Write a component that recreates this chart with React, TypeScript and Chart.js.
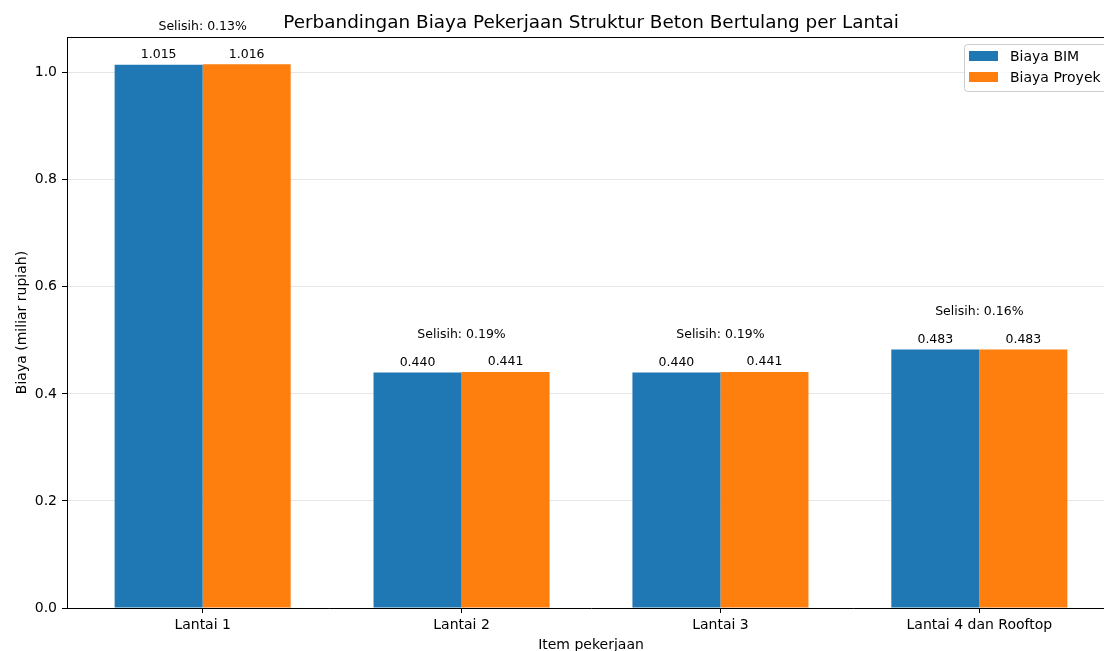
import React, { useEffect, useRef } from "react";
import { Chart, registerables } from "chart.js";

Chart.register(...registerables);

const categories = ["Lantai 1", "Lantai 2", "Lantai 3", "Lantai 4 dan Rooftop"];
const biayaBIM = [1.015, 0.44, 0.44, 0.483];
const biayaProyek = [1.016, 0.441, 0.441, 0.483];
const selisihLabels = ["Selisih: 0.13%", "Selisih: 0.19%", "Selisih: 0.19%", "Selisih: 0.16%"];
const yTicks = [0, 0.2, 0.4, 0.6, 0.8, 1.0];
const seriesNames = ["Biaya BIM", "Biaya Proyek"];
const seriesColors = ["#1f77b4", "#ff7f0e"];
const titleText = "Perbandingan Biaya Pekerjaan Struktur Beton Bertulang per Lantai";
const xTitle = "Item pekerjaan";
const yTitle = "Biaya (miliar rupiah)";

const FONT = "'DejaVu Sans', sans-serif";

const overlayPlugin = {
  id: "overlay",
  afterDraw(chart: any) {
    const ctx = chart.ctx as CanvasRenderingContext2D;
    const area = chart.chartArea;
    const xs = chart.scales.x;
    const ys = chart.scales.y;
    ctx.save();
    // top & right spines
    ctx.strokeStyle = "#000";
    ctx.lineWidth = 1;
    ctx.beginPath();
    ctx.moveTo(area.left, Math.round(area.top) + 0.5);
    ctx.lineTo(area.right, Math.round(area.top) + 0.5);
    ctx.moveTo(Math.round(area.right) + 0.5, area.top);
    ctx.lineTo(Math.round(area.right) + 0.5, area.bottom);
    ctx.stroke();

    // value labels
    ctx.fillStyle = "#000";
    ctx.font = `12.5px ${FONT}`;
    ctx.textAlign = "center";
    ctx.textBaseline = "alphabetic";
    [biayaBIM, biayaProyek].forEach((arr, d) => {
      const meta = chart.getDatasetMeta(d);
      meta.data.forEach((bar: any, i: number) => {
        ctx.fillText(arr[i].toFixed(3), bar.x, bar.y - 6.5);
      });
    });

    // selisih labels
    categories.forEach((_, i) => {
      const top = ys.getPixelForValue(Math.max(biayaBIM[i], biayaProyek[i]));
      ctx.fillText(selisihLabels[i], xs.getPixelForValue(i), top - 34);
    });

    // title
    ctx.font = `18.4px ${FONT}`;
    ctx.fillText(titleText, (area.left + area.right) / 2, 28);

    // axis titles
    ctx.font = `14px ${FONT}`;
    ctx.fillText(xTitle, (area.left + area.right) / 2, 649);
    ctx.save();
    ctx.translate(25.5, (area.top + area.bottom) / 2);
    ctx.rotate(-Math.PI / 2);
    ctx.fillText(yTitle, 0, 0);
    ctx.restore();

    // legend
    const lx = area.right - 151;
    const ly = area.top + 7;
    const lw = 146;
    const lh = 47;
    ctx.beginPath();
    (ctx as any).roundRect(lx + 0.5, ly + 0.5, lw, lh, 3);
    ctx.fillStyle = "rgba(255,255,255,0.8)";
    ctx.fill();
    ctx.strokeStyle = "#cccccc";
    ctx.stroke();
    seriesNames.forEach((name, k) => {
      const py = ly + 7 + k * 21;
      ctx.fillStyle = seriesColors[k];
      ctx.fillRect(lx + 5, py, 29, 10);
      ctx.fillStyle = "#000";
      ctx.font = `14px ${FONT}`;
      ctx.textAlign = "left";
      ctx.fillText(name, lx + 46, py + 10);
    });
    ctx.restore();
  },
};

export default function App() {
  const ref = useRef<HTMLCanvasElement | null>(null);
  useEffect(() => {
    if (!ref.current) return;
    Chart.defaults.font.family = FONT;
    const chart = new Chart(ref.current, {
      type: "bar",
      data: {
        datasets: [biayaBIM, biayaProyek].map((arr, d) => ({
          label: seriesNames[d],
          data: arr.map((v, i) => ({ x: i, y: v })),
          backgroundColor: seriesColors[d],
          borderWidth: 0,
          categoryPercentage: 0.68,
          barPercentage: 1.0,
        })),
      },
      options: {
        responsive: false,
        animation: false,
        devicePixelRatio: 1,
        layout: { padding: { top: 37, left: 0, right: 5, bottom: 0 } },
        plugins: {
          legend: { display: false },
          title: { display: false },
          tooltip: { enabled: false },
        },
        scales: {
          x: {
            type: "linear",
            min: -0.524,
            max: 3.524,
            offset: false,
            afterFit: (s: any) => {
              s.height = 43;
            },
            afterBuildTicks: (s: any) => {
              s.ticks = categories.map((_, i) => ({ value: i }));
            },
            ticks: {
              autoSkip: false,
              maxRotation: 0,
              padding: 4,
              color: "#000",
              font: { size: 14, family: FONT },
              callback: (v: any) => categories[v as number] ?? "",
            },
            grid: {
              offset: false,
              drawOnChartArea: false,
              drawTicks: true,
              tickLength: 5,
              tickColor: "#000",
            },
            border: { display: true, color: "#000", width: 1 },
          },
          y: {
            type: "linear",
            min: 0,
            max: 1.0668,
            afterFit: (s: any) => {
              s.width = 67;
            },
            afterBuildTicks: (s: any) => {
              s.ticks = yTicks.map((v) => ({ value: v }));
            },
            ticks: {
              padding: 5,
              color: "#000",
              font: { size: 14, family: FONT },
              callback: (v: any) => Number(v).toFixed(1),
            },
            grid: {
              color: "#e6e6e6",
              lineWidth: 1,
              drawTicks: true,
              tickLength: 5,
              tickColor: "#000",
            },
            border: { display: true, color: "#000", width: 1 },
          },
        },
      },
      plugins: [overlayPlugin],
    });
    return () => chart.destroy();
  }, []);
  return (
    <div
      style={{
        position: "absolute",
        left: 0,
        top: 0,
        width: 1104,
        height: 651,
        overflow: "hidden",
        background: "#fff",
      }}
    >
      <canvas ref={ref} width={1120} height={651} style={{ width: 1120, height: 651, display: "block" }} />
    </div>
  );
}
